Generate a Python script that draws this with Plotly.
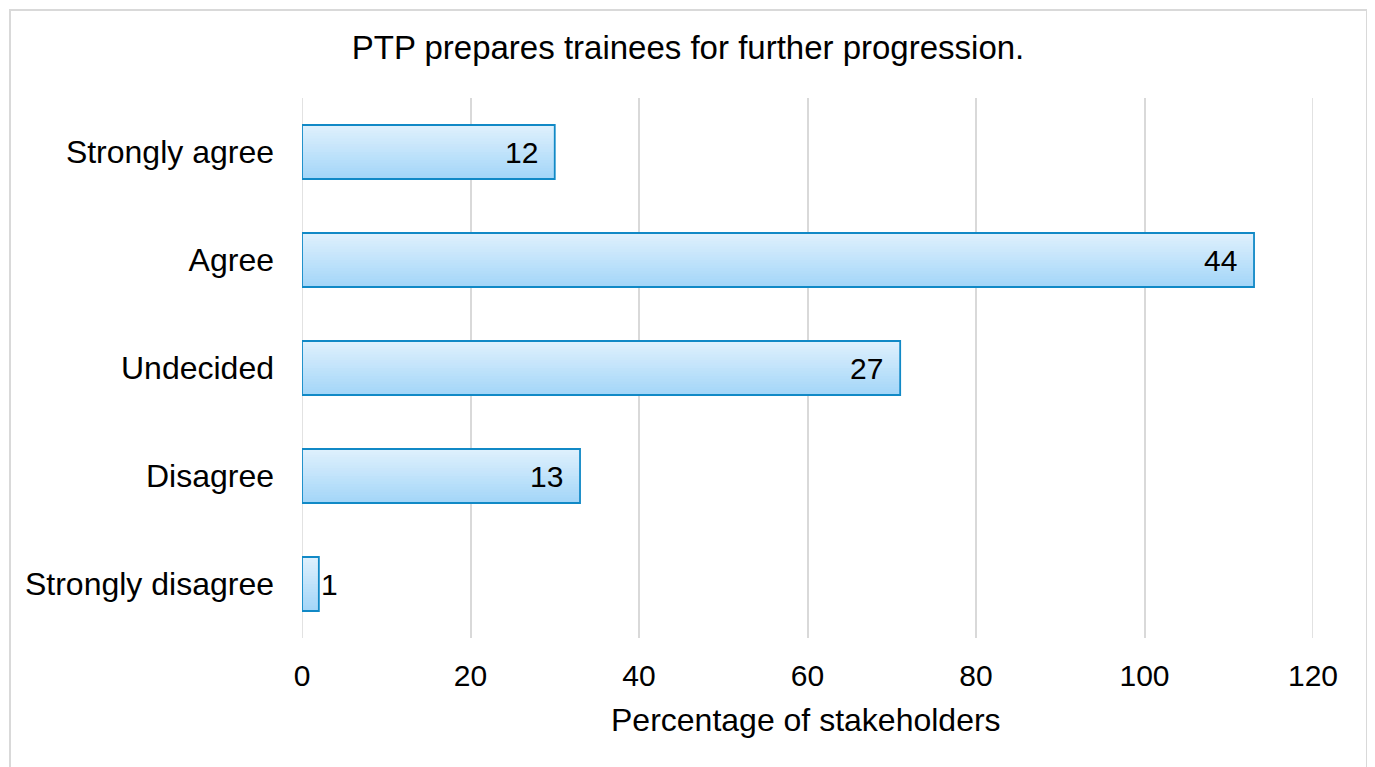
import plotly.graph_objects as go

categories = ["Strongly agree", "Agree", "Undecided", "Disagree", "Strongly disagree"]
bar_values = [30, 113, 71, 33, 2]
label_values = [12, 44, 27, 13, 1]
x_ticks = [0, 20, 40, 60, 80, 100, 120]

FONT = "Liberation Sans, Arial, sans-serif"

# page body adds an 8px offset; plot area target: x 302..1313, y 98..638
fig = go.Figure()

# gradient fill simulated with thin strips (light top -> darker bottom)
n_strips = 20
top_rgb = (222, 240, 253)
bot_rgb = (164, 214, 248)
bar_w = 0.5
for i in range(n_strips):
    t = i / (n_strips - 1)
    r = round(bot_rgb[0] + (top_rgb[0] - bot_rgb[0]) * t)
    g = round(bot_rgb[1] + (top_rgb[1] - bot_rgb[1]) * t)
    b = round(bot_rgb[2] + (top_rgb[2] - bot_rgb[2]) * t)
    off = -bar_w / 2 + i * bar_w / n_strips
    w = bar_w / n_strips * 1.5 if i < n_strips - 1 else bar_w / n_strips
    fig.add_trace(go.Bar(
        y=categories, x=bar_values, orientation="h",
        width=w, offset=off,
        marker=dict(color=f"rgb({r},{g},{b})", line=dict(width=0)),
        hoverinfo="skip",
    ))

# outline
fig.add_trace(go.Bar(
    y=categories, x=bar_values, orientation="h",
    width=bar_w, offset=-bar_w / 2,
    marker=dict(color="rgba(0,0,0,0)", line=dict(color="#1189c6", width=1.8)),
    hoverinfo="skip",
))

annotations = []
for cat, val, lab in zip(categories, bar_values, label_values):
    inside = val > 5
    annotations.append(dict(
        x=val, y=cat, xref="x", yref="y", text=str(lab), showarrow=False,
        xanchor="right" if inside else "left",
        xshift=-15 if inside else 0,
        font=dict(family=FONT, size=30, color="black"),
    ))

edge_grid = [dict(type="line", xref="x", yref="paper", x0=v, x1=v, y0=0, y1=1,
                  line=dict(color="#d9d9d9", width=1.5), layer="below")
             for v in (x_ticks[0], x_ticks[-1])]

fig.update_layout(
    width=1375, height=767,
    margin=dict(l=294, r=70, t=90, b=137),
    barmode="overlay",
    paper_bgcolor="white",
    plot_bgcolor="white",
    showlegend=False,
    font=dict(family=FONT, color="black"),
    title=dict(text="PTP prepares trainees for further progression.",
               x=(688 - 8) / 1375, xanchor="center", y=1 - 39 / 767, yanchor="middle",
               font=dict(family=FONT, size=33, color="black")),
    xaxis=dict(range=[0, 120], tickvals=x_ticks, showgrid=True,
               gridcolor="#d9d9d9", gridwidth=1.5, zeroline=False,
               showline=False, ticks="", ticklabelstandoff=17,
               tickfont=dict(family=FONT, size=30, color="black")),
    yaxis=dict(categoryorder="array", categoryarray=categories[::-1],
               range=[-0.5, 4.5], showgrid=False, zeroline=False,
               showline=False, ticks="", ticklabelstandoff=27,
               tickfont=dict(family=FONT, size=32, color="black")),
    annotations=annotations + [dict(
        text="Percentage of stakeholders", xref="paper", yref="paper",
        x=(806 - 302) / 1011, y=(638 - 720) / 540, xanchor="center", yanchor="middle",
        showarrow=False, font=dict(family=FONT, size=32, color="black"))],
    shapes=[dict(type="rect", xref="paper", yref="paper",
                 x0=(10 - 302) / 1011, x1=(1367 - 302) / 1011,
                 y0=(638 - 775) / 540, y1=(638 - 10) / 540,
                 line=dict(color="#d9d9d9", width=2), layer="below")] + edge_grid,
)

fig.write_html("out.html")
